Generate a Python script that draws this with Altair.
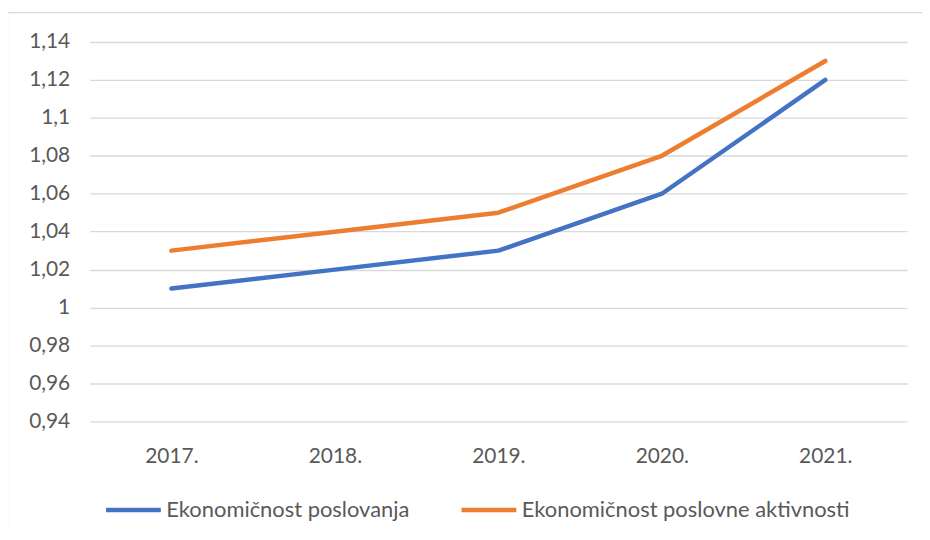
import altair as alt
import pandas as pd

years = ["2017.", "2018.", "2019.", "2020.", "2021."]
series_names = ["Ekonomičnost poslovanja", "Ekonomičnost poslovne aktivnosti"]
poslovanja = [1.01, 1.02, 1.03, 1.06, 1.12]
aktivnosti = [1.03, 1.04, 1.05, 1.08, 1.13]
y_ticks = [0.94, 0.96, 0.98, 1.0, 1.02, 1.04, 1.06, 1.08, 1.1, 1.12, 1.14]
colors = ["#4472C4", "#ED7D31"]

rows = []
for name, vals in zip(series_names, [poslovanja, aktivnosti]):
    for yr, v in zip(years, vals):
        rows.append({"Godina": yr, "Vrijednost": v, "Serija": name})
df = pd.DataFrame(rows)

FONT = "Lato"
TXT = "#595959"
FS = 21
LFS = 22

lines = alt.Chart(df).mark_line(strokeWidth=4.5, strokeCap="round", strokeJoin="round").encode(
    x=alt.X("Godina:N", sort=years, scale=alt.Scale(type="point", padding=0.5),
            axis=alt.Axis(title=None, labelAngle=0, domain=False, ticks=False, grid=False,
                          labelPadding=24, labelFontSize=FS, labelColor=TXT, labelFont=FONT)),
    y=alt.Y("Vrijednost:Q", scale=alt.Scale(domain=[0.94, 1.14], nice=False, zero=False),
            axis=alt.Axis(title=None, values=y_ticks, domain=False, ticks=False,
                          gridColor="#D9D9D9", gridWidth=1.3,
                          labelExpr="replace(format(datum.value, '~g'), '.', ',')",
                          labelPadding=20, labelFontSize=FS, labelColor=TXT, labelFont=FONT)),
    color=alt.Color("Serija:N", sort=series_names,
                    scale=alt.Scale(domain=series_names, range=colors),
                    legend=alt.Legend(title=None, orient="none", direction="horizontal",
                                      legendX=14, legendY=440, symbolType="stroke",
                                      symbolSize=3025, symbolStrokeWidth=4.5,
                                      labelFontSize=LFS, labelColor=TXT, labelFont=FONT,
                                      labelLimit=500,
                                      labelOffset=3, columnPadding=42, padding=0)),
)

frame_df = pd.DataFrame({"k": [0]})
left_border = alt.Chart(frame_df).mark_rule(color="#D9D9D9", strokeWidth=1.3, clip=False).encode(
    x=alt.value(-82.5), y=alt.value(-29.5), y2=alt.value(540))
top_border = alt.Chart(frame_df).mark_rule(color="#D9D9D9", strokeWidth=1.3, clip=False).encode(
    x=alt.value(-82.5), x2=alt.value(860), y=alt.value(-29.5))

chart = alt.layer(left_border, top_border, lines).properties(
    width=821, height=381,
    autosize=alt.AutoSizeParams(type="none"),
    padding={"left": 82, "top": 33, "right": 15, "bottom": 110},
).configure(background="white").configure_view(stroke=None)

chart.save("out.html", embed_options={"renderer": "svg", "actions": False})
